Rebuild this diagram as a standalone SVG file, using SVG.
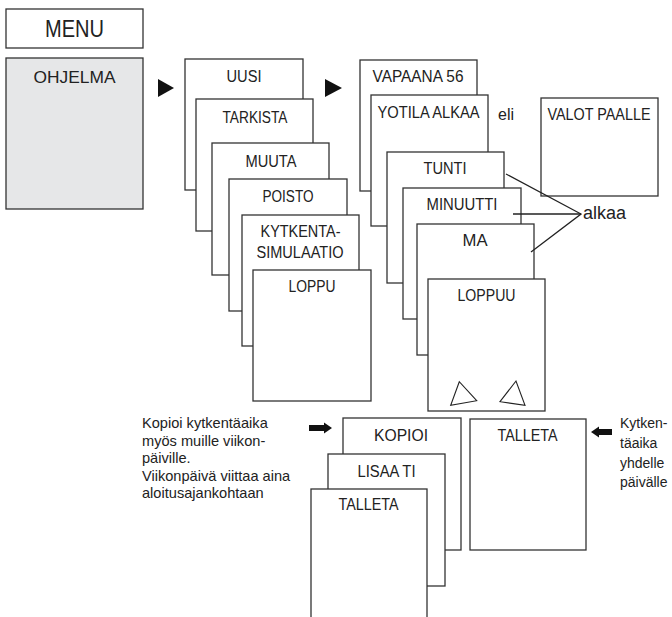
<svg xmlns="http://www.w3.org/2000/svg" width="672" height="617" viewBox="0 0 672 617">
<style>
.b{fill:#fff;stroke:#333;stroke-width:1.3}
.g{fill:#e6e7e8;stroke:#333;stroke-width:1.3}
.t{font-family:"Liberation Sans",Arial,sans-serif;font-size:16px;fill:#222;text-anchor:middle}
.s{font-family:"Liberation Sans",Arial,sans-serif;font-size:14.6px;fill:#222}
.r{font-family:"Liberation Sans",Arial,sans-serif;font-size:14px;fill:#222}
.ln{stroke:#222;stroke-width:1.3;fill:none}
.tri{fill:#fff;stroke:#222;stroke-width:1.1}
</style>
<g id="menu"><rect class="b" x="6" y="9" width="137" height="39"/><text class="t" x="74.5" y="37" style="font-size:23px" textLength="59" lengthAdjust="spacingAndGlyphs">MENU</text></g>
<g id="ohjelma"><rect class="g" x="6" y="58" width="137" height="151"/><text class="t" x="74.5" y="83" textLength="82" lengthAdjust="spacingAndGlyphs">OHJELMA</text></g>
<g id="uusi"><rect class="b" x="185" y="59" width="118" height="131"/><text class="t" x="244" y="82" textLength="35" lengthAdjust="spacingAndGlyphs">UUSI</text></g>
<g id="tarkista"><rect class="b" x="196" y="99" width="117" height="132"/><text class="t" x="255" y="123" textLength="65" lengthAdjust="spacingAndGlyphs">TARKISTA</text></g>
<g id="muuta"><rect class="b" x="212" y="143" width="117" height="132"/><text class="t" x="271" y="167" textLength="51" lengthAdjust="spacingAndGlyphs">MUUTA</text></g>
<g id="poisto"><rect class="b" x="229" y="179" width="118" height="132"/><text class="t" x="288" y="202" textLength="51" lengthAdjust="spacingAndGlyphs">POISTO</text></g>
<g id="kytkenta"><rect class="b" x="242" y="215" width="117" height="131"/><text class="t" x="300.5" y="237" textLength="80" lengthAdjust="spacingAndGlyphs">KYTKENTA-</text><text class="t" x="300" y="258" textLength="87" lengthAdjust="spacingAndGlyphs">SIMULAATIO</text></g>
<g id="loppu"><rect class="b" x="253" y="270" width="118" height="131"/><text class="t" x="312" y="292" textLength="47" lengthAdjust="spacingAndGlyphs">LOPPU</text></g>
<g id="vapaana"><rect class="b" x="360" y="60" width="117" height="131"/><text class="t" x="418" y="82" textLength="91" lengthAdjust="spacingAndGlyphs">VAPAANA 56</text></g>
<g id="yotila"><rect class="b" x="371" y="95" width="117" height="131"/><text class="t" x="428.5" y="118" textLength="102" lengthAdjust="spacingAndGlyphs">YOTILA ALKAA</text></g>
<g id="eli"><text class="s" x="498" y="120" style="font-size:16px">eli</text></g>
<g id="valot"><rect class="b" x="541" y="98" width="117" height="98"/><text class="t" x="599" y="120" textLength="103" lengthAdjust="spacingAndGlyphs">VALOT PAALLE</text></g>
<g id="tunti"><rect class="b" x="387" y="152" width="117" height="131"/><text class="t" x="445" y="174" textLength="43" lengthAdjust="spacingAndGlyphs">TUNTI</text></g>
<g id="minuutti"><rect class="b" x="403" y="188" width="118" height="131"/><text class="t" x="462" y="210" textLength="71" lengthAdjust="spacingAndGlyphs">MINUUTTI</text></g>
<g id="ma"><rect class="b" x="417" y="224" width="117" height="131"/><text class="t" x="475" y="246" textLength="25" lengthAdjust="spacingAndGlyphs">MA</text></g>
<g id="loppuu"><rect class="b" x="428" y="279" width="117" height="132"/><text class="t" x="486.5" y="301" textLength="58" lengthAdjust="spacingAndGlyphs">LOPPUU</text>
<polygon class="tri" points="459.3,381.7 450.7,405.3 476.7,400.7"/><polygon class="tri" points="516,381 500,401.7 525,405.3"/></g>
<g id="alkaa"><text class="s" x="583" y="219" style="font-size:18px">alkaa</text></g>
<g id="kopioi"><rect class="b" x="343" y="418" width="118" height="132"/><text class="t" x="401" y="441" textLength="54" lengthAdjust="spacingAndGlyphs">KOPIOI</text></g>
<g id="lisaa"><rect class="b" x="328" y="454" width="117" height="132"/><text class="t" x="386.5" y="477" textLength="58" lengthAdjust="spacingAndGlyphs">LISAA TI</text></g>
<g id="talleta1"><rect class="b" x="311" y="489" width="116" height="135"/><text class="t" x="368.5" y="510" textLength="60" lengthAdjust="spacingAndGlyphs">TALLETA</text></g>
<g id="talleta2"><rect class="b" x="470" y="419" width="116" height="131"/><text class="t" x="527.5" y="441" textLength="60" lengthAdjust="spacingAndGlyphs">TALLETA</text></g>
<g id="note-left">
<text class="s" x="142" y="427.5">Kopioi kytkentäaika</text>
<text class="s" x="142" y="445.5">myös muille viikon-</text>
<text class="s" x="142" y="463">päiville.</text>
<text class="s" x="142" y="480.5">Viikonpäivä viittaa aina</text>
<text class="s" x="142" y="498">aloitusajankohtaan</text>
</g>
<g id="note-right">
<text class="r" x="620" y="428">Kytken-</text>
<text class="r" x="620" y="448">täaika</text>
<text class="r" x="620" y="467.5">yhdelle</text>
<text class="r" x="620" y="487">päivälle</text>
</g>
<g id="connectors">
<polygon points="158,79 174,88 158,97" fill="#111"/>
<polygon points="325,79 342,88 325,97" fill="#111"/>
<polyline class="ln" points="506,174 581,214 531,252"/>
<line class="ln" x1="513" y1="214" x2="581" y2="214"/>
<polygon points="309,425 324,425 324,422.5 332,428 324,433.5 324,431 309,431" fill="#111"/>
<polygon points="612,429 599,429 599,426.5 591,432 599,437.5 599,435 612,435" fill="#111"/>
</g>
</svg>
